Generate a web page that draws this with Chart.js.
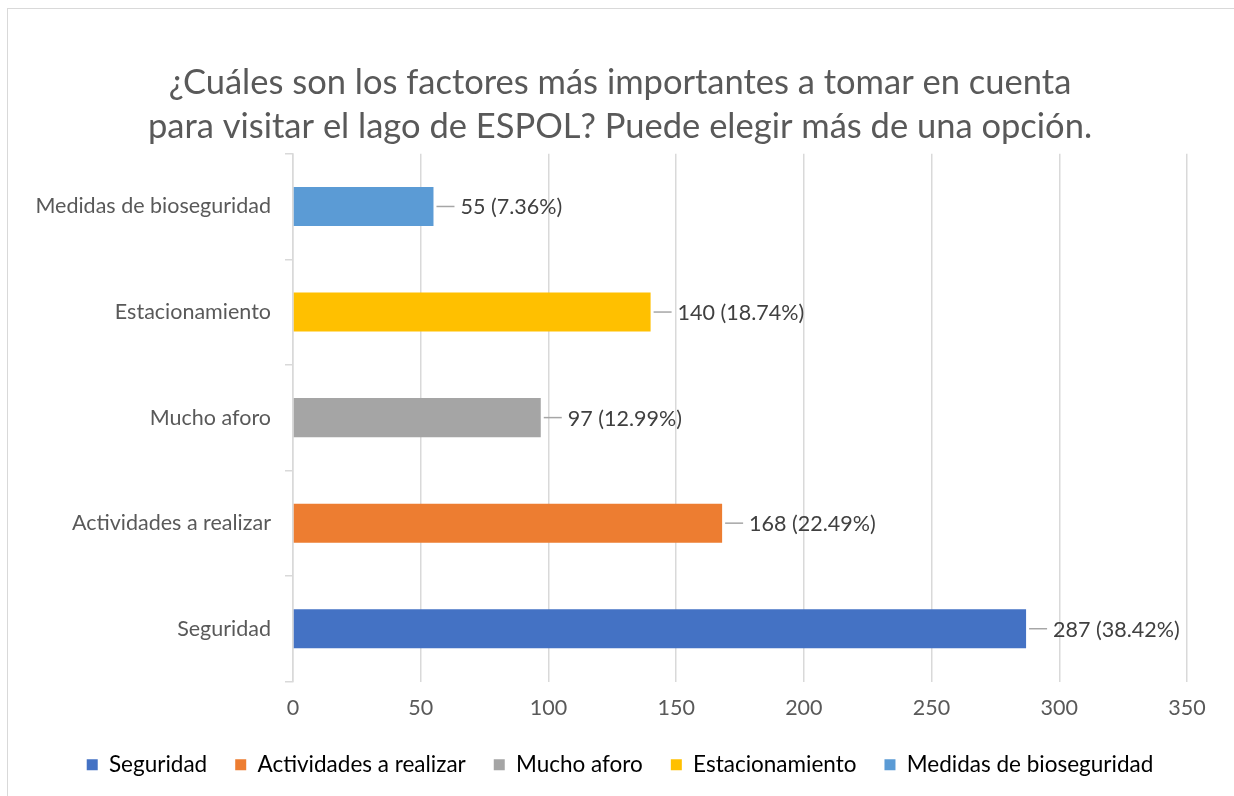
<!DOCTYPE html>
<html>
<head>
<meta charset="utf-8">
<script src="https://cdn.jsdelivr.net/npm/chart.js@4.4.0/dist/chart.umd.min.js"></script>
<style>
  html, body { margin: 0; padding: 0; background: #fff; }
  #wrap { position: absolute; left: 0; top: 0; width: 1234px; height: 796px; }
  #frame { position: absolute; left: 7px; top: 8px; width: 1240px; height: 800px; border: 1.5px solid #d9d9d9; box-sizing: border-box; }
  canvas { position: absolute; left: 0; top: 0; }
</style>
</head>
<body>
<div id="wrap">
  <div id="frame"></div>
  <canvas id="myChart" width="1234" height="796"></canvas>
</div>
<script>
// categories, bottom to top (same order as the legend)
const categorias = ['Seguridad', 'Actividades a realizar', 'Mucho aforo', 'Estacionamiento', 'Medidas de bioseguridad'];
const respuestas = [287, 168, 97, 140, 55];
const porcentajes = ['38.42%', '22.49%', '12.99%', '18.74%', '7.36%'];
const colores = ['#4472C4', '#ED7D31', '#A5A5A5', '#FFC000', '#5B9BD5'];
const ticksX = [0, 50, 100, 150, 200, 250, 300, 350];

const fuente = 'Lato, "Open Sans", sans-serif';

// etiquetas con linea guia, como en Excel
const etiquetas = {
    id: 'etiquetas',
    afterDatasetsDraw(chart) {
        const ctx = chart.ctx;
        const meta = chart.getDatasetMeta(0);
        ctx.save();
        meta.data.forEach(function(bar, i) {
            const x = bar.x;
            const y = bar.y;
            ctx.strokeStyle = '#a6a6a6';
            ctx.lineWidth = 1.5;
            ctx.beginPath();
            ctx.moveTo(x + 3, y);
            ctx.lineTo(x + 21, y);
            ctx.stroke();
            ctx.fillStyle = '#404040';
            ctx.font = '21.5px ' + fuente;
            ctx.textAlign = 'left';
            ctx.textBaseline = 'middle';
            ctx.fillText(respuestas[i] + ' (' + porcentajes[i] + ')', x + 27, y + 1);
        });
        ctx.restore();
    }
};

const ctx = document.getElementById('myChart').getContext('2d');
const myChart = new Chart(ctx, {
    type: 'bar',
    data: {
        labels: categorias,
        datasets: [{
            data: respuestas,
            backgroundColor: colores,
            barPercentage: 0.37,
            categoryPercentage: 1
        }]
    },
    options: {
        indexAxis: 'y',
        responsive: false,
        animation: false,
        layout: { padding: { left: 6, right: 0, top: 0, bottom: 10 } },
        plugins: {
            title: {
                display: true,
                text: ['¿Cuáles son los factores más importantes a tomar en cuenta',
                       'para visitar el lago de ESPOL? Puede elegir más de una opción.'],
                color: '#595959',
                font: { family: fuente, size: 34.5, weight: 'normal', lineHeight: 1.3 },
                padding: { top: 60, bottom: 4 }
            },
            legend: {
                position: 'bottom',
                labels: {
                    color: '#595959',
                    font: { family: fuente, size: 22.5 },
                    boxWidth: 11,
                    boxHeight: 11,
                    padding: 28,
                    generateLabels: function(chart) {
                        return categorias.map(function(c, i) {
                            return { text: c, fillStyle: colores[i], strokeStyle: colores[i], lineWidth: 0, index: i };
                        });
                    }
                },
                onClick: function() {}
            },
            tooltip: { enabled: false }
        },
        scales: {
            x: {
                min: 0,
                max: 350,
                afterBuildTicks: function(axis) {
                    axis.ticks = ticksX.map(function(v) { return { value: v }; });
                },
                grid: { color: '#d9d9d9', lineWidth: 1.5, drawTicks: false },
                border: { display: false },
                ticks: { color: '#595959', font: { family: fuente, size: 21.5 }, padding: 14 },
                afterFit: function(axis) { axis.height = 44; }
            },
            y: {
                reverse: true,
                grid: { drawOnChartArea: false, drawTicks: true, tickLength: 8, offset: true, color: '#d9d9d9', lineWidth: 1.5 },
                border: { display: true, color: '#d9d9d9', width: 1.5 },
                ticks: { color: '#595959', font: { family: fuente, size: 21.5 }, padding: 14 },
                afterFit: function(axis) { axis.width = 287; }
            },
            // eje vacio a la derecha para dejar el margen del grafico
            margen: {
                type: 'category',
                position: 'right',
                grid: { display: false },
                border: { display: false },
                ticks: { display: false },
                afterFit: function(axis) { axis.width = 47; }
            }
        }
    },
    plugins: [etiquetas]
});
</script>
</body>
</html>
